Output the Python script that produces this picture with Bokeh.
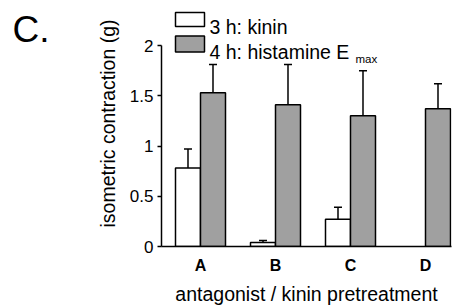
import numpy as np
from bokeh.plotting import figure
from bokeh.models import (ColumnDataSource, Whisker, TeeHead, Label, FixedTicker,
                          Range1d, LinearAxis)
from bokeh.embed import file_html
from bokeh.resources import INLINE

# ---- data ----
categories = ["A", "B", "C", "D"]
kinin_mean = [0.78, 0.04, 0.27, np.nan]
kinin_err = [0.19, 0.02, 0.12, np.nan]
hist_mean = [1.53, 1.41, 1.30, 1.37]
hist_err = [0.28, 0.40, 0.45, 0.25]
y_ticks = [0, 0.5, 1, 1.5, 2]
y_tick_labels = ["0", "0.5", "1", "1.5", "2"]
legend_labels = ["3 h: kinin", "4 h: histamine E"]
legend_sub = "max"
panel_letter = "C."

FONT = "Liberation Sans"
GRAY = "#a0a0a0"
BAR_W = 1 / 3

pos = np.arange(len(categories)) + 1.0

p = figure(width=457, height=307, output_backend="svg", toolbar_location=None,
           x_range=Range1d(0.48, 4.3467), y_range=Range1d(0, 2.448),
           min_border_left=161, min_border_right=6, min_border_top=0, min_border_bottom=61)
p.outline_line_color = None
p.grid.visible = False

def add_bars(means, errs, offset, color):
    m = np.array(means, dtype=float)
    e = np.array(errs, dtype=float)
    ok = ~np.isnan(m)
    src = ColumnDataSource(dict(x=pos[ok] + offset, top=m[ok],
                                lo=(m - e)[ok], hi=(m + e)[ok]))
    p.vbar(x="x", top="top", bottom=0, width=BAR_W, source=src,
           fill_color=color, line_color="black", line_width=1.5)
    w = Whisker(source=src, base="x", lower="lo", upper="hi",
                line_color="black", line_width=1.5,
                upper_head=TeeHead(size=8, line_color="black", line_width=1.5),
                lower_head=TeeHead(size=8, line_color="black", line_width=1.5))
    p.add_layout(w)

add_bars(kinin_mean, kinin_err, -BAR_W / 2, "white")
add_bars(hist_mean, hist_err, BAR_W / 2, GRAY)

# axes
ya = p.yaxis[0]
ya.ticker = FixedTicker(ticks=y_ticks)
ya.major_label_overrides = {t: l for t, l in zip(y_ticks, y_tick_labels)}
ya.bounds = (0, 2)
ya.minor_tick_line_color = None
ya.major_tick_in = 0
ya.major_tick_out = 4
ya.major_tick_line_width = 1.5
ya.axis_line_width = 1.5
ya.major_label_text_font = FONT
ya.major_label_text_font_size = "17px"
ya.major_label_text_color = "black"
ya.major_label_standoff = 4
ya.axis_label = "isometric contraction (g)"
ya.axis_label_text_font = FONT
ya.axis_label_text_font_size = "19.5px"
ya.axis_label_text_font_style = "normal"
ya.axis_label_text_color = "black"
ya.axis_label_standoff = 8

xa = p.xaxis[0]
xa.ticker = FixedTicker(ticks=list(pos))
xa.major_label_overrides = {float(x): c for x, c in zip(pos, categories)}
xa.major_tick_in = 0
xa.major_tick_out = 0
xa.minor_tick_line_color = None
xa.axis_line_width = 1.5
xa.major_label_text_font = FONT
xa.major_label_text_font_style = "bold"
xa.major_label_text_font_size = "16px"
xa.major_label_text_color = "black"
xa.major_label_standoff = 10
xa.axis_label = "antagonist / kinin pretreatment"
xa.axis_label_text_font = FONT
xa.axis_label_text_font_size = "19.5px"
xa.axis_label_text_font_style = "normal"
xa.axis_label_text_color = "black"
xa.axis_label_standoff = 6

# helpers to place annotations at pixel positions of the picture
def xd(px):
    return 1 + (px - 200) / 75.0

def yd(py):
    return (246 - py) / 100.5

# panel letter drawn as the only tick label of an extra, invisible left axis
letter_y = yd(29)
la = LinearAxis(ticker=FixedTicker(ticks=[letter_y]),
                major_label_overrides={letter_y: panel_letter})
la.axis_line_color = None
la.major_tick_line_color = None
la.minor_tick_line_color = None
la.major_tick_in = 0
la.major_tick_out = 0
la.major_label_text_font = FONT
la.major_label_text_font_size = "37px"
la.major_label_text_color = "black"
la.major_label_standoff = 44
p.add_layout(la, "left")

# legend boxes
p.quad(left=[xd(175)], right=[xd(204)], top=[yd(12)], bottom=[yd(26)],
       fill_color="white", line_color="black", line_width=1.5)
p.quad(left=[xd(175)], right=[xd(204)], top=[yd(35.5)], bottom=[yd(51.5)],
       fill_color=GRAY, line_color="black", line_width=1.5)
p.add_layout(Label(x=xd(209), y=yd(26), text=legend_labels[0], text_font=FONT,
                   text_font_size="19.5px", text_baseline="alphabetic", text_color="black"))
p.add_layout(Label(x=xd(209), y=yd(51.5), text=legend_labels[1], text_font=FONT,
                   text_font_size="19.5px", text_baseline="alphabetic", text_color="black"))
p.add_layout(Label(x=xd(355), y=yd(58.5), text=legend_sub, text_font=FONT,
                   text_font_size="11.5px", text_baseline="alphabetic", text_color="black"))

open("out.html", "w").write(file_html(p, INLINE))
